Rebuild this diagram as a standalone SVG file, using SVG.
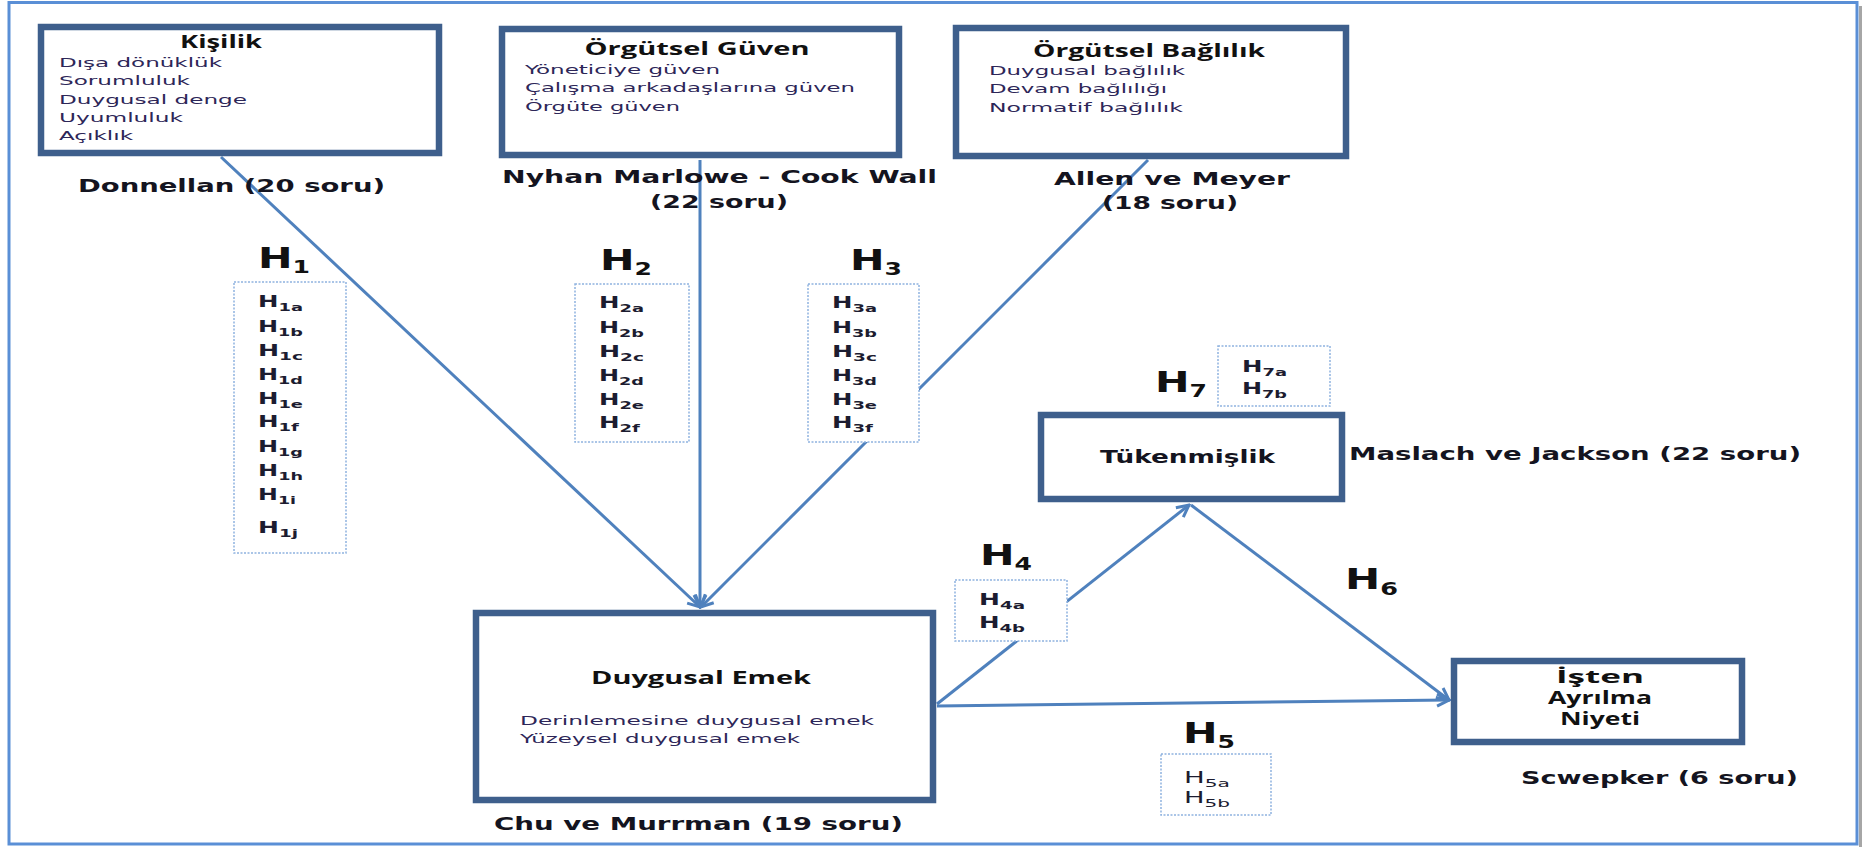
<svg xmlns="http://www.w3.org/2000/svg" width="1863" height="847" viewBox="0 0 1863 847">
  <style>
    .frame { fill: #ffffff; stroke: #5a8fd6; stroke-width: 3; }
    .node { fill: #ffffff; stroke: #3e5f8c; stroke-width: 6.5; }
    .hyp { fill: #ffffff; stroke: #8fb3e0; stroke-width: 1.5; stroke-dasharray: 2 1.5; }
    .conn { fill: none; stroke: #4f81bd; stroke-width: 3; }
    .title { font-family: "Open Sans", "Liberation Sans", sans-serif; font-weight: 700; font-size: 17px; fill: #111111; }
    .item { font-family: "DejaVu Sans", "Liberation Sans", sans-serif; font-size: 12px; fill: #2d2658; }
    .src { font-family: "DejaVu Sans", "Liberation Sans", sans-serif; font-weight: 700; font-size: 18px; fill: #141420; }
    .hbig { font-family: "DejaVu Sans", "Liberation Sans", sans-serif; font-weight: 700; font-size: 28px; fill: #111111; }
    .hsm { font-family: "DejaVu Sans", "Liberation Sans", sans-serif; font-weight: 700; font-size: 15px; fill: #1c1c30; }
    .hsm5 { font-family: "DejaVu Sans", "Liberation Sans", sans-serif; font-size: 15px; fill: #1c1c30; }
    .mid { text-anchor: middle; }
  </style>
  <defs>
    <marker id="arrow" markerUnits="userSpaceOnUse" viewBox="0 0 16 16" refX="14" refY="8" markerWidth="16" markerHeight="16" orient="auto">
      <path d="M2,2 L14,8 L2,14" fill="none" stroke="#4f81bd" stroke-width="3" stroke-linejoin="miter"/>
    </marker>
  </defs>

  <!-- page frame with shadow on the right -->
  <line x1="1860.5" y1="6" x2="1860.5" y2="847" stroke="#a6a6a6" stroke-width="3"/>
  <rect class="frame" x="9" y="2.5" width="1848" height="841.5"/>

  <!-- connectors -->
  <g id="connectors">
    <path class="conn" d="M221,157 L700,607" marker-end="url(#arrow)"/>
    <path class="conn" d="M700,160 L700,607" marker-end="url(#arrow)"/>
    <path class="conn" d="M1148,160 L701,607" marker-end="url(#arrow)"/>
    <path class="conn" d="M937,704 L1189,505" marker-end="url(#arrow)"/>
    <path class="conn" d="M1191,505 L1449,700" marker-end="url(#arrow)"/>
    <path class="conn" d="M937,706 L1449,700" marker-end="url(#arrow)"/>
  </g>

  <!-- Kişilik -->
  <g id="kisilik">
    <rect class="node" x="41" y="27" width="398" height="126"/>
    <text class="title mid" x="221" y="48" textLength="82" lengthAdjust="spacingAndGlyphs">Kişilik</text>
    <text class="item" x="59" y="67" textLength="163" lengthAdjust="spacingAndGlyphs">Dışa dönüklük</text>
    <text class="item" x="59" y="85" textLength="131" lengthAdjust="spacingAndGlyphs">Sorumluluk</text>
    <text class="item" x="59" y="104" textLength="188" lengthAdjust="spacingAndGlyphs">Duygusal  denge</text>
    <text class="item" x="59" y="122" textLength="124" lengthAdjust="spacingAndGlyphs">Uyumluluk</text>
    <text class="item" x="59" y="140" textLength="74" lengthAdjust="spacingAndGlyphs">Açıklık</text>
    <text class="src" x="78" y="192" textLength="307" lengthAdjust="spacingAndGlyphs">Donnellan  (20 soru)</text>
  </g>

  <!-- Örgütsel Güven -->
  <g id="orgutsel-guven">
    <rect class="node" x="502" y="29" width="397" height="126"/>
    <text class="title mid" x="697" y="55" textLength="225" lengthAdjust="spacingAndGlyphs">Örgütsel Güven</text>
    <text class="item" x="525" y="74" textLength="195" lengthAdjust="spacingAndGlyphs">Yöneticiye güven</text>
    <text class="item" x="525" y="92" textLength="330" lengthAdjust="spacingAndGlyphs">Çalışma arkadaşlarına güven</text>
    <text class="item" x="525" y="111" textLength="155" lengthAdjust="spacingAndGlyphs">Örgüte güven</text>
    <text class="src" x="502" y="183" textLength="435" lengthAdjust="spacingAndGlyphs">Nyhan Marlowe  - Cook Wall</text>
    <text class="src" x="650" y="208" textLength="138" lengthAdjust="spacingAndGlyphs">(22  soru)</text>
  </g>

  <!-- Örgütsel Bağlılık -->
  <g id="orgutsel-baglilik">
    <rect class="node" x="956" y="28" width="390" height="128"/>
    <text class="title mid" x="1149" y="57" textLength="232" lengthAdjust="spacingAndGlyphs">Örgütsel Bağlılık</text>
    <text class="item" x="989" y="75" textLength="196" lengthAdjust="spacingAndGlyphs">Duygusal bağlılık</text>
    <text class="item" x="989" y="93" textLength="178" lengthAdjust="spacingAndGlyphs">Devam bağlılığı</text>
    <text class="item" x="989" y="112" textLength="194" lengthAdjust="spacingAndGlyphs">Normatif bağlılık</text>
    <text class="src" x="1054" y="185" textLength="236" lengthAdjust="spacingAndGlyphs">Allen ve Meyer</text>
    <text class="src" x="1102" y="209" textLength="136" lengthAdjust="spacingAndGlyphs">(18  soru)</text>
  </g>

  <!-- H1 -->
  <g id="h1">
    <text class="hbig" x="258" y="268" textLength="52" lengthAdjust="spacingAndGlyphs">H<tspan font-size="17" dy="5">1</tspan></text>
    <rect class="hyp" x="234" y="282" width="112" height="271"/>
    <text class="hsm" x="258" y="307" textLength="45" lengthAdjust="spacingAndGlyphs">H<tspan font-size="11" dy="4">1a</tspan></text>
    <text class="hsm" x="258" y="332" textLength="45" lengthAdjust="spacingAndGlyphs">H<tspan font-size="11" dy="4">1b</tspan></text>
    <text class="hsm" x="258" y="356" textLength="45" lengthAdjust="spacingAndGlyphs">H<tspan font-size="11" dy="4">1c</tspan></text>
    <text class="hsm" x="258" y="380" textLength="45" lengthAdjust="spacingAndGlyphs">H<tspan font-size="11" dy="4">1d</tspan></text>
    <text class="hsm" x="258" y="404" textLength="45" lengthAdjust="spacingAndGlyphs">H<tspan font-size="11" dy="4">1e</tspan></text>
    <text class="hsm" x="258" y="427" textLength="41" lengthAdjust="spacingAndGlyphs">H<tspan font-size="11" dy="4">1f</tspan></text>
    <text class="hsm" x="258" y="452" textLength="45" lengthAdjust="spacingAndGlyphs">H<tspan font-size="11" dy="4">1g</tspan></text>
    <text class="hsm" x="258" y="476" textLength="45" lengthAdjust="spacingAndGlyphs">H<tspan font-size="11" dy="4">1h</tspan></text>
    <text class="hsm" x="258" y="500" textLength="38" lengthAdjust="spacingAndGlyphs">H<tspan font-size="11" dy="4">1i</tspan></text>
    <text class="hsm" x="258" y="533" textLength="40" lengthAdjust="spacingAndGlyphs">H<tspan font-size="11" dy="4">1j</tspan></text>
  </g>

  <!-- H2 -->
  <g id="h2">
    <text class="hbig" x="600" y="270" textLength="52" lengthAdjust="spacingAndGlyphs">H<tspan font-size="17" dy="5">2</tspan></text>
    <rect class="hyp" x="575" y="284" width="114" height="158"/>
    <text class="hsm" x="599" y="308" textLength="45" lengthAdjust="spacingAndGlyphs">H<tspan font-size="11" dy="4">2a</tspan></text>
    <text class="hsm" x="599" y="333" textLength="45" lengthAdjust="spacingAndGlyphs">H<tspan font-size="11" dy="4">2b</tspan></text>
    <text class="hsm" x="599" y="357" textLength="45" lengthAdjust="spacingAndGlyphs">H<tspan font-size="11" dy="4">2c</tspan></text>
    <text class="hsm" x="599" y="381" textLength="45" lengthAdjust="spacingAndGlyphs">H<tspan font-size="11" dy="4">2d</tspan></text>
    <text class="hsm" x="599" y="405" textLength="45" lengthAdjust="spacingAndGlyphs">H<tspan font-size="11" dy="4">2e</tspan></text>
    <text class="hsm" x="599" y="428" textLength="41" lengthAdjust="spacingAndGlyphs">H<tspan font-size="11" dy="4">2f</tspan></text>
  </g>

  <!-- H3 -->
  <g id="h3">
    <text class="hbig" x="850" y="270" textLength="52" lengthAdjust="spacingAndGlyphs">H<tspan font-size="17" dy="5">3</tspan></text>
    <rect class="hyp" x="808" y="284" width="111" height="158"/>
    <text class="hsm" x="832" y="308" textLength="45" lengthAdjust="spacingAndGlyphs">H<tspan font-size="11" dy="4">3a</tspan></text>
    <text class="hsm" x="832" y="333" textLength="45" lengthAdjust="spacingAndGlyphs">H<tspan font-size="11" dy="4">3b</tspan></text>
    <text class="hsm" x="832" y="357" textLength="45" lengthAdjust="spacingAndGlyphs">H<tspan font-size="11" dy="4">3c</tspan></text>
    <text class="hsm" x="832" y="381" textLength="45" lengthAdjust="spacingAndGlyphs">H<tspan font-size="11" dy="4">3d</tspan></text>
    <text class="hsm" x="832" y="405" textLength="45" lengthAdjust="spacingAndGlyphs">H<tspan font-size="11" dy="4">3e</tspan></text>
    <text class="hsm" x="832" y="428" textLength="41" lengthAdjust="spacingAndGlyphs">H<tspan font-size="11" dy="4">3f</tspan></text>
  </g>

  <!-- H7 -->
  <g id="h7">
    <text class="hbig" x="1155" y="392" textLength="52" lengthAdjust="spacingAndGlyphs">H<tspan font-size="17" dy="5">7</tspan></text>
    <rect class="hyp" x="1218" y="346" width="112" height="60"/>
    <text class="hsm" x="1242" y="372" textLength="45" lengthAdjust="spacingAndGlyphs">H<tspan font-size="11" dy="4">7a</tspan></text>
    <text class="hsm" x="1242" y="394" textLength="45" lengthAdjust="spacingAndGlyphs">H<tspan font-size="11" dy="4">7b</tspan></text>
  </g>

  <!-- Tükenmişlik -->
  <g id="tukenmislik">
    <rect class="node" x="1041" y="415" width="301" height="84"/>
    <text class="src" x="1100" y="463" textLength="175" lengthAdjust="spacingAndGlyphs">Tükenmişlik</text>
    <text class="src" x="1349" y="460" textLength="452" lengthAdjust="spacingAndGlyphs">Maslach  ve Jackson  (22 soru)</text>
  </g>

  <!-- H4 -->
  <g id="h4">
    <text class="hbig" x="980" y="565" textLength="52" lengthAdjust="spacingAndGlyphs">H<tspan font-size="17" dy="5">4</tspan></text>
    <rect class="hyp" x="955" y="580" width="112" height="61"/>
    <text class="hsm" x="979" y="605" textLength="46" lengthAdjust="spacingAndGlyphs">H<tspan font-size="11" dy="4">4a</tspan></text>
    <text class="hsm" x="979" y="628" textLength="46" lengthAdjust="spacingAndGlyphs">H<tspan font-size="11" dy="4">4b</tspan></text>
  </g>

  <!-- H6 -->
  <g id="h6">
    <text class="hbig" x="1345" y="589" textLength="53" lengthAdjust="spacingAndGlyphs">H<tspan font-size="17" dy="6">6</tspan></text>
  </g>

  <!-- Duygusal Emek -->
  <g id="duygusal-emek">
    <rect class="node" x="476" y="613" width="457" height="187"/>
    <text class="title" x="591" y="684" textLength="220" lengthAdjust="spacingAndGlyphs">Duygusal Emek</text>
    <text class="item" x="520" y="725" textLength="354" lengthAdjust="spacingAndGlyphs">Derinlemesine duygusal emek</text>
    <text class="item" x="520" y="743" textLength="280" lengthAdjust="spacingAndGlyphs">Yüzeysel duygusal emek</text>
    <text class="src" x="494" y="830" textLength="409" lengthAdjust="spacingAndGlyphs">Chu ve Murrman  (19 soru)</text>
  </g>

  <!-- H5 -->
  <g id="h5">
    <text class="hbig" x="1183" y="743" textLength="52" lengthAdjust="spacingAndGlyphs">H<tspan font-size="17" dy="5">5</tspan></text>
    <rect class="hyp" x="1161" y="754" width="110" height="61"/>
    <text class="hsm5" x="1184" y="783" textLength="46" lengthAdjust="spacingAndGlyphs">H<tspan font-size="11" dy="4">5a</tspan></text>
    <text class="hsm5" x="1184" y="803" textLength="46" lengthAdjust="spacingAndGlyphs">H<tspan font-size="11" dy="4">5b</tspan></text>
  </g>

  <!-- İşten Ayrılma Niyeti -->
  <g id="isten-ayrilma-niyeti">
    <rect class="node" x="1454" y="661" width="288" height="81"/>
    <text class="title mid" x="1600" y="683" font-size="16" textLength="88" lengthAdjust="spacingAndGlyphs">İşten</text>
    <text class="title mid" x="1600" y="704" font-size="16" textLength="104" lengthAdjust="spacingAndGlyphs">Ayrılma</text>
    <text class="title mid" x="1600" y="725" font-size="16" textLength="80" lengthAdjust="spacingAndGlyphs">Niyeti</text>
    <text class="src" x="1521" y="784" textLength="277" lengthAdjust="spacingAndGlyphs">Scwepker (6 soru)</text>
  </g>
</svg>
